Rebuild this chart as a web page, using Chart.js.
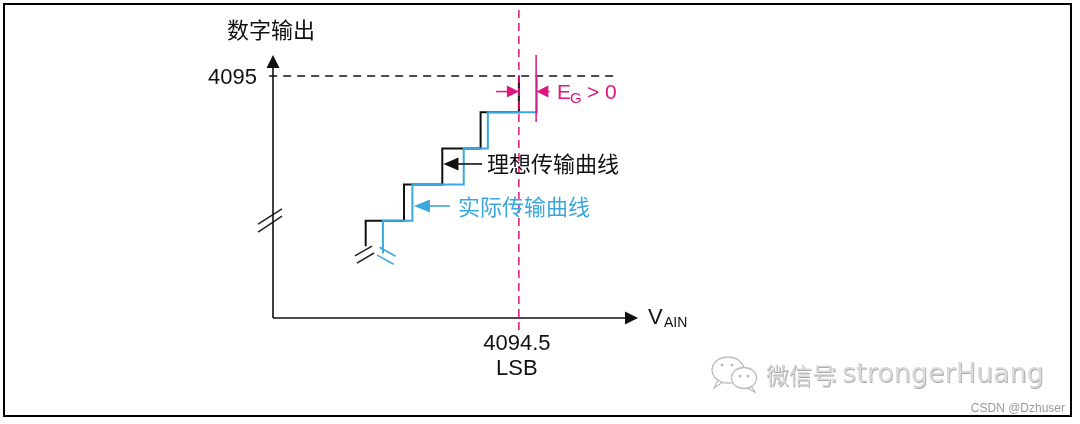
<!DOCTYPE html>
<html><head><meta charset="utf-8">
<script src="https://cdn.jsdelivr.net/npm/chart.js@4"></script>
<style>html,body{margin:0;padding:0;background:#fff}#wrap{width:1080px;height:424px}</style>
</head><body><div id="wrap"><canvas id="c" width="1080" height="424"></canvas></div>
<script>
// ---- data (LSB on x, output code on y) ----
const idealSteps  = [4090.5, 4091.5, 4092.5, 4093.5, 4094.5];   // ideal code transitions
const actualSteps = [4090.95, 4091.72, 4093.06, 4093.69, 4094.97]; // actual code transitions
const codes       = [4091, 4092, 4093, 4094, 4095];
const idealStartCode  = 4090.3;
const actualStartCode = 4090.1;
const fullScaleCode = 4095;
const yTickLabel = '4095';
const xTickLabel = ['4094.5', 'LSB'];
const xRange = [4088.08, 4097.61];
const yRange = [4088.315, 4095.58];
const fullScaleLineX = [4087.98, 4097.1];
const idealMarkerY = [4096.82, 4087.85];
const actualMarkerY = [4095.58, 4093.73];
const egArrowY = 4094.57;
const egArrowFrom = [4093.9, 4095.3];
const idealLabelPt = {tipX: 4092.53, y: 4092.57, fromX: 4093.54};
const actualLabelPt = {tipX: 4091.76, y: 4091.41, fromX: 4092.7};
const yBreak = [[4087.69, 4090.91, 4088.315, 4091.33], [4087.69, 4090.69, 4088.315, 4091.13]];
const idealBreak = [[4090.22, 4090.03, 4090.665, 4090.30], [4090.27, 4089.83, 4090.72, 4090.11]];
const actualBreak = [[4090.8, 4090.05, 4091.23, 4089.80], [4090.86, 4090.27, 4091.28, 4090.02]];

const BLACK = '#111111', BLUE = '#3aa8dc', PINK = '#e0137f';

function stairs(steps, start) {
  const pts = [{x: steps[0], y: start}];
  for (let i = 0; i < steps.length; i++) {
    pts.push({x: steps[i], y: codes[i]});
    if (i + 1 < steps.length) pts.push({x: steps[i + 1], y: codes[i]});
  }
  return pts;
}
function seg(s, color, w) {
  return {data: [{x: s[0], y: s[1]}, {x: s[2], y: s[3]}], borderColor: color, borderWidth: w, order: 1};
}
const datasets = [
  {data: stairs(actualSteps, actualStartCode), borderColor: BLUE, borderWidth: 2, order: 2},
  {data: stairs(idealSteps, idealStartCode), borderColor: BLACK, borderWidth: 2, order: 3},
  {data: [{x: fullScaleLineX[0], y: fullScaleCode}, {x: fullScaleLineX[1], y: fullScaleCode}], borderColor: BLACK, borderWidth: 1.3, borderDash: [8, 6], order: 4},
  {data: [{x: idealSteps[4], y: idealMarkerY[0]}, {x: idealSteps[4], y: idealMarkerY[1]}], borderColor: PINK, borderWidth: 1.5, borderDash: [8, 5], order: 1},
  {data: [{x: actualSteps[4] - 0.02, y: actualMarkerY[0]}, {x: actualSteps[4] - 0.02, y: actualMarkerY[1]}], borderColor: PINK, borderWidth: 1.5, order: 1},
  ...yBreak.map(s => seg(s, '#222', 1.5)),
  ...idealBreak.map(s => seg(s, '#222', 1.5)),
  ...actualBreak.map(s => seg(s, BLUE, 1.5)),
].map(d => Object.assign({showLine: true, pointRadius: 0, tension: 0, clip: false, fill: false}, d));

const LAT = '"Liberation Sans", Arial, sans-serif';
const CJK = '"Noto Sans CJK SC", "Noto Sans", sans-serif';

const deco = {
  id: 'deco',
  afterDatasetsDraw(chart) {
    const {ctx, chartArea: a, scales: {x, y}} = chart;
    const X = v => x.getPixelForValue(v), Y = v => y.getPixelForValue(v);
    const line = (x1, y1, x2, y2) => {ctx.beginPath(); ctx.moveTo(x1, y1); ctx.lineTo(x2, y2); ctx.stroke();};
    const head = (tx, ty, dx, dy, len, half) => {
      const bx = tx - dx * len, by = ty - dy * len;
      ctx.beginPath(); ctx.moveTo(tx, ty);
      ctx.lineTo(bx - dy * half, by + dx * half);
      ctx.lineTo(bx + dy * half, by - dx * half);
      ctx.closePath(); ctx.fill();
    };
    ctx.save();
    // frame
    ctx.strokeStyle = '#000'; ctx.lineWidth = 2;
    ctx.strokeRect(4, 4, 1067, 412);
    // axes
    ctx.strokeStyle = BLACK; ctx.fillStyle = BLACK; ctx.lineWidth = 1.6;
    line(a.left, a.bottom, a.left, a.top + 10);
    line(a.left, a.bottom, a.right - 10, a.bottom);
    head(a.left, a.top, 0, -1, 13, 6.5);
    head(a.right, a.bottom, 1, 0, 13, 6.5);
    // label arrows
    ctx.lineWidth = 1.6;
    const iy = Y(idealLabelPt.y), itx = X(idealLabelPt.tipX);
    line(itx + 10, iy, X(idealLabelPt.fromX), iy);
    head(itx, iy, -1, 0, 15, 6.5);
    ctx.strokeStyle = BLUE; ctx.fillStyle = BLUE;
    const ay = Y(actualLabelPt.y), atx = X(actualLabelPt.tipX);
    line(atx + 10, ay, X(actualLabelPt.fromX), ay);
    head(atx, ay, -1, 0, 16, 6.5);
    // E_G arrows
    ctx.strokeStyle = PINK; ctx.fillStyle = PINK; ctx.lineWidth = 1.5;
    const ey = Y(egArrowY);
    line(X(egArrowFrom[0]), ey, X(idealSteps[4]) - 8, ey);
    head(X(idealSteps[4]), ey, 1, 0, 12, 6);
    line(X(actualSteps[4]) + 8, ey, X(egArrowFrom[1]), ey);
    head(X(actualSteps[4]) - 0.5, ey, -1, 0, 12, 6);
    // texts
    ctx.textBaseline = 'middle';
    ctx.fillStyle = BLACK;
    ctx.font = '22px ' + CJK; ctx.textAlign = 'center';
    ctx.fillText('数字输出', a.left - 2, 30);
    ctx.font = '22px ' + LAT; ctx.textAlign = 'right';
    ctx.fillText(yTickLabel, a.left - 16, Y(fullScaleCode) + 2);
    ctx.textAlign = 'center';
    ctx.fillText(xTickLabel[0], X(idealSteps[4]) - 2, a.bottom + 26);
    ctx.fillText(xTickLabel[1], X(idealSteps[4]) - 2, a.bottom + 51);
    ctx.textAlign = 'left'; ctx.textBaseline = 'alphabetic';
    ctx.font = '22px ' + LAT;
    ctx.fillText('V', a.right + 10, a.bottom + 6);
    ctx.font = '14px ' + LAT;
    ctx.fillText('AIN', a.right + 26, a.bottom + 9);
    // E_G label
    ctx.fillStyle = PINK;
    ctx.font = '21px ' + LAT;
    const ex = X(actualSteps[4]) + 20;
    ctx.fillText('E', ex, ey + 7.5);
    ctx.font = '15px ' + LAT;
    ctx.fillText('G', ex + 13, ey + 11);
    ctx.font = '21px ' + LAT;
    ctx.fillText('> 0', ex + 30, ey + 7.5);
    // curve labels
    ctx.textBaseline = 'middle';
    ctx.font = '22px ' + CJK;
    ctx.fillStyle = BLACK;
    ctx.fillText('理想传输曲线', X(idealLabelPt.fromX) + 5, iy);
    ctx.fillStyle = BLUE;
    ctx.fillText('实际传输曲线', X(actualLabelPt.fromX) + 8, ay + 1);
    // watermark
    ctx.lineWidth = 1.3; ctx.strokeStyle = '#bcbcbc'; ctx.fillStyle = '#fff';
    ctx.beginPath(); ctx.ellipse(728, 370, 16, 13, 0, 0, Math.PI * 2); ctx.stroke();
    ctx.beginPath(); ctx.moveTo(718, 380); ctx.lineTo(714, 388); ctx.lineTo(723, 382); ctx.stroke();
    ctx.beginPath(); ctx.ellipse(744, 378, 12.5, 10.5, 0, 0, Math.PI * 2); ctx.fill(); ctx.stroke();
    ctx.beginPath(); ctx.moveTo(751, 386); ctx.lineTo(755, 392); ctx.lineTo(747, 388); ctx.stroke();
    ctx.fillStyle = '#bcbcbc';
    [[722, 365], [732, 365], [740, 376], [748, 376]].forEach(p => {ctx.beginPath(); ctx.arc(p[0], p[1], 1.5, 0, Math.PI * 2); ctx.fill();});
    ctx.textBaseline = 'middle'; ctx.textAlign = 'left';
    const emboss = (t, px, py) => {
      ctx.fillStyle = '#a8a8a8'; ctx.fillText(t, px + 0.8, py + 0.8);
      ctx.fillStyle = '#dadada'; ctx.fillText(t, px, py);
    };
    ctx.font = '23px ' + CJK;
    emboss('微信号', 766, 375);
    ctx.font = '27px "DejaVu Sans", sans-serif';
    emboss(':', 829, 375);
    emboss('strongerHuang', 842, 375);
    ctx.font = '12px ' + LAT; ctx.fillStyle = '#9a9a9a'; ctx.textAlign = 'right';
    ctx.fillText('CSDN @Dzhuser', 1065, 409);
    ctx.restore();
  }
};

new Chart(document.getElementById('c'), {
  type: 'scatter',
  data: {datasets},
  options: {
    responsive: false, animation: false, devicePixelRatio: 1,
    layout: {padding: {left: 273, right: 442, top: 55, bottom: 106}},
    scales: {
      x: {type: 'linear', display: false, min: xRange[0], max: xRange[1]},
      y: {type: 'linear', display: false, min: yRange[0], max: yRange[1]}
    },
    plugins: {legend: {display: false}, tooltip: {enabled: false}}
  },
  plugins: [deco]
});
</script></body></html>
